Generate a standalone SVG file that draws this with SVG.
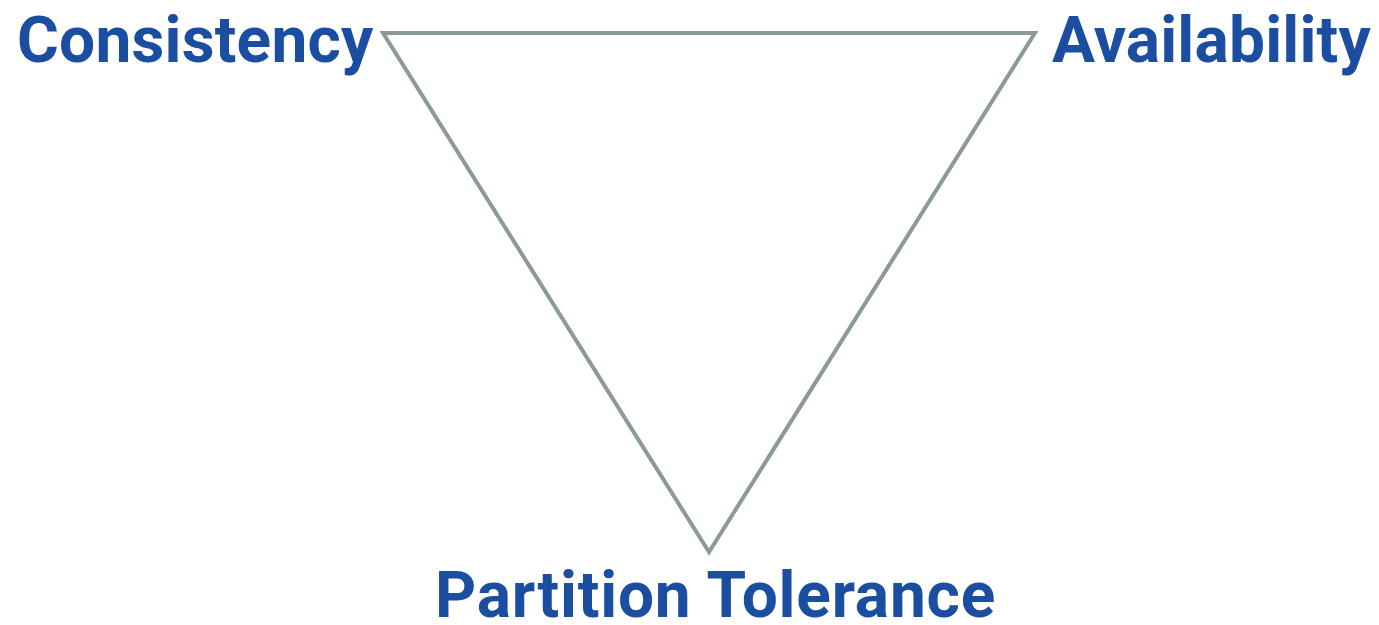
<svg xmlns="http://www.w3.org/2000/svg" width="1379" height="625" viewBox="0 0 1379 625">
<style>
.lbl{font-family:Roboto,"Liberation Sans",sans-serif;font-weight:700;font-size:64px;fill:#1b4ea0}
.tri{fill:none;stroke:#8b9a98;stroke-width:4;stroke-linejoin:miter}
</style>
<rect width="1379" height="625" fill="#ffffff"/>
<g id="connectors">
<polygon class="tri" points="383,33 1035,33 709,552"/>
</g>
<g id="consistency"><text class="lbl" x="17" y="62" letter-spacing="0.2">Consistency</text></g>
<g id="availability"><text class="lbl" x="1052" y="62" letter-spacing="0.2">Availability</text></g>
<g id="partition"><text class="lbl" x="435" y="617" letter-spacing="0.8">Partition Tolerance</text></g>
</svg>
